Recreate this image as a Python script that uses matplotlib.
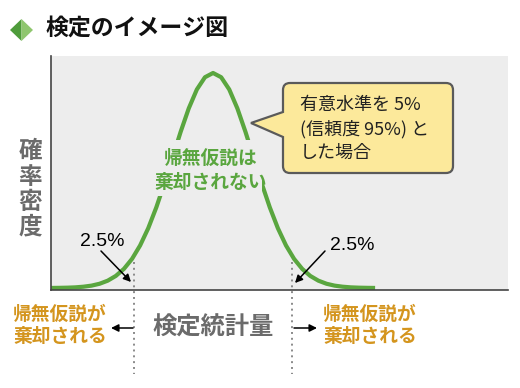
import matplotlib
matplotlib.use("Agg")
import matplotlib.pyplot as plt
from matplotlib.patches import Polygon, Rectangle, PathPatch
from matplotlib.path import Path

plt.rcParams['font.family'] = ['Noto Sans CJK JP', 'DejaVu Sans']

# -----------------------------
# Data (standard normal density)
# -----------------------------
z_values = [-4.0, -3.8, -3.6, -3.4, -3.2, -3.0, -2.8, -2.6, -2.4, -2.2,
            -2.0, -1.8, -1.6, -1.4, -1.2, -1.0, -0.8, -0.6, -0.4, -0.2,
            0.0, 0.2, 0.4, 0.6, 0.8, 1.0, 1.2, 1.4, 1.6, 1.8,
            2.0, 2.2, 2.4, 2.6, 2.8, 3.0, 3.2, 3.4, 3.6, 3.8, 4.0]
density = [0.0001, 0.0003, 0.0006, 0.0012, 0.0024, 0.0044, 0.0079, 0.0136, 0.0224, 0.0355,
           0.0540, 0.0790, 0.1109, 0.1497, 0.1942, 0.2420, 0.2897, 0.3332, 0.3683, 0.3910,
           0.3989, 0.3910, 0.3683, 0.3332, 0.2897, 0.2420, 0.1942, 0.1497, 0.1109, 0.0790,
           0.0540, 0.0355, 0.0224, 0.0136, 0.0079, 0.0044, 0.0024, 0.0012, 0.0006, 0.0003,
           0.0001]
crit_z = [-1.96, 1.96]
tail_label = "2.5%"

title = "検定のイメージ図"
ylabel = "確率密度"
xlabel = "検定統計量"
accept_lines = ["帰無仮説は", "棄却されない"]
reject_lines = ["帰無仮説が", "棄却される"]
note_lines = ["有意水準を 5%", "(信頼度 95%) と", "した場合"]

GREEN = "#5aa63f"
ORANGE = "#d4951e"
GRAY_TXT = "#6b6b6b"
BG = "#ededed"

W, H = 520, 388


def fx(x, y):
    # pixel (from top-left) -> figure fraction
    return (x / W, 1 - y / H)


fig = plt.figure(figsize=(5.2, 3.88), dpi=100)

# -----------------------------
# Axes with the curve
# -----------------------------
ax = fig.add_axes([51 / W, 1 - 290 / H, (508 - 51) / W, (290 - 56) / H])
ax.set_facecolor(BG)
ax.plot(z_values, density, color=GREEN, lw=3, solid_capstyle='butt',
        solid_joinstyle='round', zorder=2)
ax.set_xlim(-4.0, 7.28)
ax.set_ylim(-0.0037, 0.4304)
for s in ['top', 'right']:
    ax.spines[s].set_visible(False)
for s in ['left', 'bottom']:
    ax.spines[s].set_color('#444444')
    ax.spines[s].set_linewidth(1.2)
ax.set_xticks([])
ax.set_yticks([])

# dotted critical lines, running below the axis
for c in crit_z:
    ax.plot([c, c], [0.048, -0.16], color='#8a8a8a', lw=1.4, ls=(0, (1, 2)),
            clip_on=False, zorder=3)

# -----------------------------
# Title with diamond
# -----------------------------
fig.add_artist(Polygon([fx(10, 30), fx(21.5, 19), fx(21.5, 41)],
                       closed=True, transform=fig.transFigure,
                       fc='#4f9c3b', ec='none'))
fig.add_artist(Polygon([fx(21.5, 19), fx(33, 30), fx(21.5, 41)],
                       closed=True, transform=fig.transFigure,
                       fc='#8fc66e', ec='none'))
fig.text(*fx(45, 28), title, fontsize=16.5, fontweight='bold',
         ha='left', va='center', color='#111111')

# -----------------------------
# Axis labels
# -----------------------------
for ch, yy in zip(ylabel, [151, 177, 202, 226]):
    fig.text(*fx(30, yy), ch, fontsize=17, fontweight='bold',
             color=GRAY_TXT, ha='center', va='center')
fig.text(*fx(213, 328), xlabel, fontsize=17.5, fontweight='bold',
         color=GRAY_TXT, ha='center', va='center')

# -----------------------------
# "not rejected" label masking the curve
# -----------------------------
fig.add_artist(Rectangle(fx(156, 196), 106 / W, 56 / H,
                         transform=fig.transFigure, fc=BG, ec='none'))
for line, yy in zip(accept_lines, [158, 183]):
    fig.text(*fx(211, yy), line, fontsize=13.5, fontweight='bold',
             color=GREEN, ha='center', va='center')

# -----------------------------
# Callout box
# -----------------------------
r = 7
L, R, T, B = 283, 453, 83, 173
pts = [(L + r, T), (R - r, T), (R, T), (R, T + r), (R, B - r), (R, B), (R - r, B),
       (L + r, B), (L, B), (L, B - r), (L, 137), (251, 123), (L, 112),
       (L, T + r), (L, T), (L + r, T), (L + r, T)]
codes = [Path.MOVETO, Path.LINETO, Path.CURVE3, Path.CURVE3, Path.LINETO,
         Path.CURVE3, Path.CURVE3, Path.LINETO, Path.CURVE3, Path.CURVE3,
         Path.LINETO, Path.LINETO, Path.LINETO, Path.LINETO, Path.CURVE3,
         Path.CURVE3, Path.CLOSEPOLY]
fig.add_artist(PathPatch(Path([fx(*p) for p in pts], codes),
                         transform=fig.transFigure, fc='#fce99b',
                         ec='#5a5a5a', lw=1.6))
for line, yy in zip(note_lines, [105, 129, 153]):
    fig.text(*fx(300, yy), line, fontsize=13, color='#222222',
             ha='left', va='center')

# -----------------------------
# 2.5% tails
# -----------------------------
arrow = dict(arrowstyle='-|>', color='black', lw=1.1, mutation_scale=11,
             shrinkA=0, shrinkB=0)
fig.text(*fx(102, 241), tail_label, fontsize=14, family='Liberation Sans',
         ha='center', va='center')
fig.text(*fx(352, 245), tail_label, fontsize=14, family='Liberation Sans',
         ha='center', va='center')
ax.annotate('', xy=fx(131, 282), xytext=fx(101, 251),
            xycoords='figure fraction', textcoords='figure fraction',
            arrowprops=arrow)
ax.annotate('', xy=fx(295, 283), xytext=fx(325, 251),
            xycoords='figure fraction', textcoords='figure fraction',
            arrowprops=arrow)

# -----------------------------
# Rejection regions
# -----------------------------
for line, yy in zip(reject_lines, [314, 337]):
    fig.text(*fx(13, yy), line, fontsize=13.5, fontweight='bold',
             color=ORANGE, ha='left', va='center')
    fig.text(*fx(323, yy), line, fontsize=13.5, fontweight='bold',
             color=ORANGE, ha='left', va='center')
ax.annotate('', xy=fx(111, 328), xytext=fx(133, 328),
            xycoords='figure fraction', textcoords='figure fraction',
            arrowprops=arrow)
ax.annotate('', xy=fx(317, 328), xytext=fx(294, 328),
            xycoords='figure fraction', textcoords='figure fraction',
            arrowprops=arrow)

fig.savefig('out.png', dpi=100)
